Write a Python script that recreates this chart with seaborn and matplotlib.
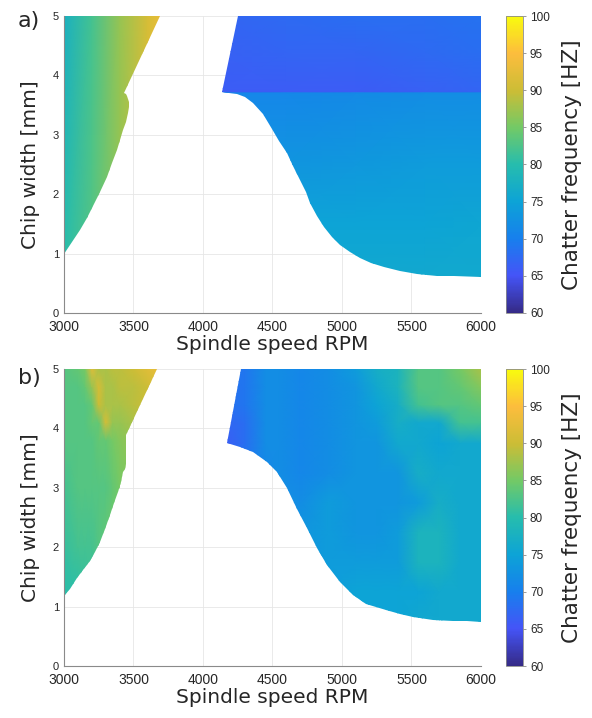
import numpy as np
import matplotlib
matplotlib.use("Agg")
import matplotlib.pyplot as plt
import seaborn as sns
from matplotlib.colors import LinearSegmentedColormap, Normalize
from matplotlib.patches import Polygon

sns.set_theme(style="whitegrid")
plt.rcParams['font.family'] = ['DejaVu Sans']

# -----------------------------
# colour scale (parula-like)
# -----------------------------
parula_pos = [0.0, 0.125, 0.25, 0.375, 0.5, 0.625, 0.75, 0.875, 1.0]
parula_rgb = [(0.208, 0.166, 0.529), (0.270, 0.330, 0.970), (0.090, 0.500, 0.930),
              (0.050, 0.640, 0.840), (0.150, 0.740, 0.680), (0.450, 0.790, 0.400),
              (0.800, 0.740, 0.210), (0.990, 0.740, 0.240), (0.976, 0.983, 0.054)]
parula = LinearSegmentedColormap.from_list("parula", list(zip(parula_pos, parula_rgb)))
f_min, f_max = 60, 100
cbar_ticks = [60, 65, 70, 75, 80, 85, 90, 95, 100]

# -----------------------------
# panel a) boundaries  (rpm, chip width)
# -----------------------------
a_left_rpm = [3000, 3000, 3060, 3115, 3165, 3211, 3260, 3307, 3345, 3379, 3405, 3427, 3445,
              3458, 3466, 3468, 3464, 3455, 3443, 3432, 3691]
a_left_b   = [5.0, 1.0, 1.2, 1.4, 1.6, 1.8, 2.03, 2.29, 2.52, 2.74, 2.92, 3.08, 3.22,
              3.36, 3.47, 3.55, 3.61, 3.66, 3.69, 3.70, 5.0]

a_right_rpm = [4250, 4135, 4190, 4243, 4300, 4363, 4430, 4495, 4550, 4603, 4650, 4700, 4740,
               4772, 4820, 4868, 4925, 4988, 5060, 5132, 5210, 5300, 5420, 5541, 5680, 5808,
               6000, 6000]
a_right_b   = [5.0, 3.72, 3.71, 3.68, 3.63, 3.54, 3.35, 3.09, 2.9, 2.69, 2.47, 2.24, 2.03,
               1.85, 1.64, 1.45, 1.28, 1.14, 1.02, 0.92, 0.84, 0.78, 0.71, 0.66, 0.63, 0.62,
               0.61, 5.0]

# panel a) frequency samples
a_left_x = [3000, 3200, 3400, 3600, 3700]
a_left_y = [1.0, 5.0]
a_left_f = [[80, 83, 87, 91, 93],
            [77.5, 82, 87, 91, 93]]

a_right_x = [4100, 4600, 5100, 5600, 6000]
a_right_y = [0.6, 1.5, 2.5, 3.71, 3.73, 4.4, 5.0]
a_right_f = [[76, 76, 76, 76, 76],
             [75, 75, 75, 75, 75.5],
             [73, 73, 73.5, 74, 74],
             [71, 71, 71.5, 72, 72],
             [66, 66, 66, 66.5, 67],
             [66.5, 67, 67, 67.5, 68],
             [67, 67.5, 68, 68, 68.5]]

# -----------------------------
# panel b) boundaries
# -----------------------------
b_left_rpm = [3000, 3000, 3040, 3091, 3140, 3187, 3225, 3259, 3295, 3331, 3362, 3391, 3412,
              3427, 3440, 3444, 3444, 3667]
b_left_b   = [5.0, 1.18, 1.3, 1.48, 1.62, 1.76, 1.92, 2.09, 2.3, 2.54, 2.74, 2.93, 3.1,
              3.27, 3.32, 3.4, 3.89, 5.0]

b_right_rpm = [4271, 4175, 4266, 4362, 4458, 4530, 4602, 4674, 4746, 4818, 4890, 4986, 5082,
               5172, 5316, 5420, 5508, 5652, 5796, 5900, 6000, 6000]
b_right_b   = [5.0, 3.75, 3.69, 3.61, 3.44, 3.27, 2.99, 2.65, 2.32, 1.98, 1.70, 1.42, 1.20,
               1.05, 0.94, 0.88, 0.83, 0.78, 0.76, 0.75, 0.74, 5.0]

# panel b) frequency samples
b_left_x = [3000, 3100, 3150, 3200, 3250, 3300, 3350, 3400, 3500, 3600, 3700]
b_left_y = [1.1, 2.0, 3.0, 3.8, 4.1, 4.4, 4.7, 5.0]
b_left_f = [[80, 80, 81, 81, 82, 82, 83, 83, 84, 85, 86],
            [81, 82, 82, 82, 83, 84, 85, 85, 85, 86, 86],
            [82, 83, 83, 83, 83, 83, 84, 85, 86, 86, 86],
            [83, 83, 83, 83, 84, 84, 85, 86, 87, 88, 88],
            [83, 83, 83, 84, 84, 91, 87, 87, 88, 89, 90],
            [83, 83, 83, 84, 90, 88, 88, 88, 89, 90, 91],
            [83, 83, 84, 87, 91, 88, 88, 89, 89, 90, 92],
            [83, 84, 85, 92, 88, 88, 89, 89, 90, 92, 93]]

b_right_x = [4150, 4300, 4450, 4550, 4700, 4900, 5100, 5250, 5400, 5550, 5700, 5850, 6000]
b_right_y = [0.7, 1.25, 1.75, 2.25, 2.75, 3.25, 3.75, 4.1, 4.4, 4.7, 5.0]
b_right_f = [[74, 74, 74, 74, 74, 75, 75, 75, 75, 76, 76, 76, 76],
             [73, 73, 73, 73, 74, 74, 75, 75, 75, 75, 76, 76, 76],
             [72, 72, 72, 72, 73, 74, 74, 74, 74, 78, 78, 76, 76],
             [72, 72, 72, 72, 73, 74, 73, 73, 74, 78, 78, 76, 76],
             [71, 71, 71, 72, 72, 74, 73, 73, 73, 74, 77, 76, 76],
             [70, 70, 71, 72, 71, 72, 73, 73, 73, 77, 76, 76, 76],
             [66, 68, 72, 72, 71, 72, 73, 73, 76, 76, 75, 76, 76],
             [67, 68, 72, 72, 71, 72, 73, 74, 77, 76, 76, 82, 82],
             [68, 69, 72, 72, 71, 72, 73, 75, 77, 82, 83, 83, 84],
             [68, 69, 72, 72, 71, 72, 73, 76, 78, 83, 83, 84, 86],
             [69, 69, 72, 72, 71, 72, 74, 77, 78, 83, 83, 85, 88]]

norm = Normalize(vmin=f_min, vmax=f_max)


def draw_region(ax, xs, ys, fs, bx, by):
    X, Y = np.meshgrid(xs, ys)
    mesh = ax.pcolormesh(X, Y, np.array(fs, dtype=float), cmap=parula, norm=norm,
                         shading="gouraud", zorder=2)
    clip = Polygon(np.column_stack([bx, by]), closed=True, transform=ax.transData)
    mesh.set_clip_path(clip)
    return mesh


def style_axes(ax):
    ax.set_xlim(3000, 6000)
    ax.set_ylim(0, 5)
    ax.set_xticks([3000, 3500, 4000, 4500, 5000, 5500, 6000])
    ax.set_yticks([0, 1, 2, 3, 4, 5])
    ax.set_facecolor("white")
    ax.set_axisbelow(True)
    ax.grid(True, color="#e6e6e6", linewidth=0.6)
    for side in ["top", "right"]:
        ax.spines[side].set_visible(False)
    for side in ["left", "bottom"]:
        ax.spines[side].set_color("#8a8a8a")
        ax.spines[side].set_linewidth(0.8)
    ax.tick_params(axis="both", direction="in", length=3, width=0.6, color="#8a8a8a",
                   labelcolor="#262626")
    ax.tick_params(axis="x", labelsize=10, pad=5)
    ax.tick_params(axis="y", labelsize=8, pad=3.5)
    for lab in ax.get_xticklabels() + ax.get_yticklabels():
        lab.set_family("Liberation Sans")
    ax.set_xlabel("Spindle speed RPM", fontsize=14.5, labelpad=1)
    ax.set_ylabel("Chip width [mm]", fontsize=14.5, labelpad=9)


def add_cbar(fig, mesh, rect):
    cax = fig.add_axes(rect)
    cb = fig.colorbar(mesh, cax=cax, ticks=cbar_ticks)
    cb.outline.set_edgecolor("#8a8a8a")
    cb.outline.set_linewidth(0.6)
    cax.tick_params(direction="out", length=2, width=0.6, color="#8a8a8a",
                    labelsize=8.5, labelcolor="#262626", pad=3)
    for lab in cax.get_yticklabels():
        lab.set_family("Liberation Sans")
    cb.set_label("Chatter frequency [HZ]", fontsize=15.5, labelpad=9)
    return cb


fig = plt.figure(figsize=(5.92, 7.18), dpi=100)

# 5.1 panel a
ax_a = fig.add_axes([0.1081, 0.5641, 0.7044, 0.4136])
style_axes(ax_a)
draw_region(ax_a, a_left_x, a_left_y, a_left_f, a_left_rpm, a_left_b)
m_a = draw_region(ax_a, a_right_x, a_right_y, a_right_f, a_right_rpm, a_right_b)
add_cbar(fig, m_a, [0.8547, 0.5641, 0.0287, 0.4136])
fig.text(0.030, 0.971, "a)", fontsize=16, va="center", ha="left")

# 5.2 panel b
ax_b = fig.add_axes([0.1081, 0.0724, 0.7044, 0.4136])
style_axes(ax_b)
draw_region(ax_b, b_left_x, b_left_y, b_left_f, b_left_rpm, b_left_b)
m_b = draw_region(ax_b, b_right_x, b_right_y, b_right_f, b_right_rpm, b_right_b)
add_cbar(fig, m_b, [0.8547, 0.0724, 0.0287, 0.4136])
fig.text(0.030, 0.473, "b)", fontsize=16, va="center", ha="left")

fig.savefig("out.png", dpi=100)
